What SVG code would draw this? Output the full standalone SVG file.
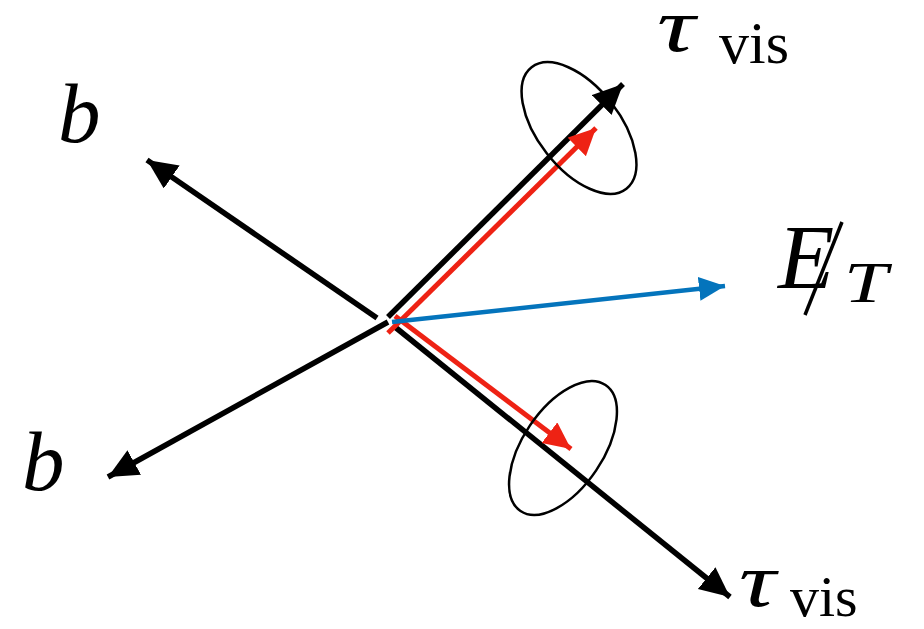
<svg xmlns="http://www.w3.org/2000/svg" width="924" height="629" viewBox="0 0 924 629">
<style>
.k{stroke:#000;stroke-width:5.5;fill:none}
.r{stroke:#ee2214;stroke-width:5;fill:none}
.bl{stroke:#0474bc;stroke-width:4.5;fill:none}
.ring{stroke:#000;stroke-width:2.5;fill:none}
.m{font-family:"Liberation Serif","DejaVu Serif",serif;font-style:italic;fill:#000}
.s{font-family:"Liberation Serif","DejaVu Serif",serif;fill:#000}
</style>
<defs>
<marker id="ak" markerUnits="userSpaceOnUse" markerWidth="34" markerHeight="34" refX="30" refY="14" orient="auto"><path d="M0,0 L30,14 L0,28 z" fill="#000"/></marker>
<marker id="ar" markerUnits="userSpaceOnUse" markerWidth="30" markerHeight="30" refX="27" refY="13" orient="auto"><path d="M0,0 L27,13 L0,26 z" fill="#ee2214"/></marker>
<marker id="ab" markerUnits="userSpaceOnUse" markerWidth="30" markerHeight="30" refX="26" refY="12" orient="auto"><path d="M0,0 L26,12 L0,24 z" fill="#0474bc"/></marker>
</defs>
<g id="connectors">
<line class="k" x1="377" y1="318" x2="147" y2="160" marker-end="url(#ak)"/>
<line class="k" x1="388" y1="322" x2="108" y2="477" marker-end="url(#ak)"/>
<line class="k" x1="388" y1="317" x2="623" y2="84" marker-end="url(#ak)"/>
<line class="k" x1="395" y1="327" x2="730" y2="597" marker-end="url(#ak)"/>
<line class="r" x1="388" y1="333" x2="596" y2="128" marker-end="url(#ar)"/>
<line class="r" x1="395" y1="316" x2="571" y2="449" marker-end="url(#ar)"/>
<line class="bl" x1="392" y1="322" x2="725" y2="286" marker-end="url(#ab)"/>
</g>
<g id="cone-upper"><ellipse class="ring" cx="579" cy="128" rx="77" ry="41" transform="rotate(52 579 128)"/></g>
<g id="cone-lower"><ellipse class="ring" cx="563" cy="448" rx="76" ry="40" transform="rotate(-56 563 448)"/></g>
<g id="label-b-upper"><text class="m" x="58" y="142" font-size="85">b</text></g>
<g id="label-b-lower"><text class="m" x="22" y="490" font-size="85">b</text></g>
<g id="label-tau-upper"><text class="m" font-size="76" transform="translate(657 51) scale(1.4 1)">τ</text><text class="s" x="719" y="63" font-size="60">vis</text></g>
<g id="label-tau-lower"><text class="m" font-size="76" transform="translate(739 606) scale(1.35 1)">τ</text><text class="s" x="790" y="616" font-size="58">vis</text></g>
<g id="label-met"><text class="m" x="778" y="288" font-size="92">E</text><line x1="805" y1="315" x2="842" y2="222" stroke="#000" stroke-width="3.5"/><text class="m" font-size="58" transform="translate(844 302) scale(1.35 1)">T</text></g>
</svg>
